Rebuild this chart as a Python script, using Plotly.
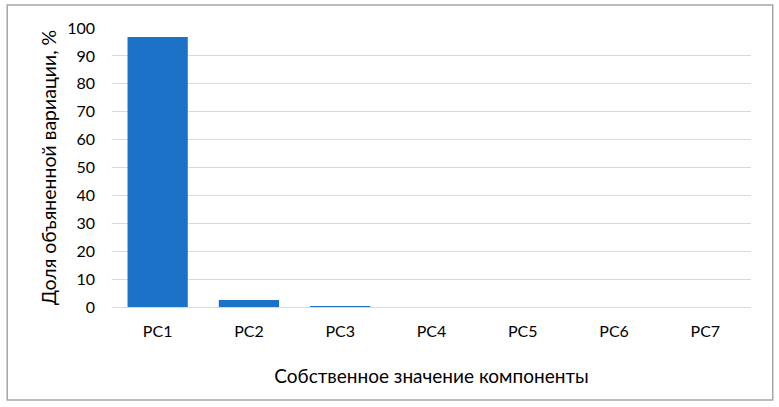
import plotly.graph_objects as go

categories = ["PC1", "PC2", "PC3", "PC4", "PC5", "PC6", "PC7"]
values = [96.8, 2.5, 0.35, 0.0, 0.0, 0.0, 0.0]
y_ticks = [0, 10, 20, 30, 40, 50, 60, 70, 80, 90, 100]

FONT = "Lato"

fig = go.Figure()
fig.add_trace(go.Bar(
    x=categories, y=values,
    marker=dict(color="#1B72C6", line=dict(width=0)),
    width=0.66,
))

fig.update_layout(
    width=779, height=407,
    margin=dict(l=112, r=28, t=28, b=100),
    paper_bgcolor="white", plot_bgcolor="white",
    showlegend=False,
    font=dict(family=FONT, size=16, color="#000000"),
    xaxis=dict(
        title=dict(text="Собственное значение компоненты", font=dict(size=19), standoff=30),
        showgrid=False, zeroline=False, showline=False, ticks="",
        tickfont=dict(size=16), automargin=False, ticklabelstandoff=13,
    ),
    yaxis=dict(
        title=dict(text="Доля объяненной вариации, %", font=dict(size=19.5), standoff=5),
        range=[0, 100], tickvals=y_ticks, ticks="",
        showgrid=True, gridcolor="#D9D9D9", gridwidth=1,
        zeroline=True, zerolinecolor="#D9D9D9", zerolinewidth=1,
        showline=False, tickfont=dict(size=16), automargin=False, ticklabelstandoff=16,
    ),
    shapes=[
        dict(type="rect", xref="paper", yref="paper",
             x0=-0.164, x1=1.034, y0=-0.333, y1=1.082,
             line=dict(color="#A6A6A6", width=1.5), fillcolor="rgba(0,0,0,0)", layer="below"),
    ],
)

fig.write_html("out.html", config={"displayModeBar": False},
               post_script="document.body.style.margin='0';document.body.style.overflow='hidden';")
